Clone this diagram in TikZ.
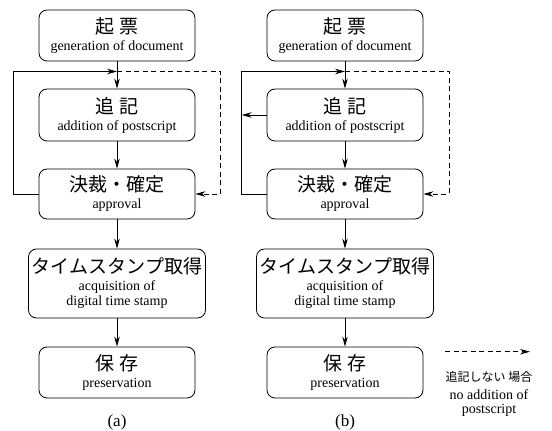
\documentclass[tikz,border=0pt]{standalone}
\usepackage{fontspec}
\setmainfont{Liberation Serif}
\newfontfamily\jpfont{Noto Sans CJK JP}
\usetikzlibrary{positioning, arrows.meta, calc}

\begin{document}
\begin{tikzpicture}[x=1pt,y=1pt,->,>={Stealth[length=10pt,width=5.5pt]},line width=.8pt,
  stage/.style={draw, -, rounded corners=8pt, align=center, minimum width=156pt, minimum height=51pt,
    inner sep=0pt, font=\fontsize{14}{15}\selectfont},
  widestage/.style={stage, minimum width=177pt, minimum height=69pt},
  skip/.style={dash pattern=on 5pt off 3.5pt},
  jp/.style={font=\jpfont\fontsize{12}{14}\selectfont},
  caption/.style={font=\fontsize{17}{18}\selectfont}]
  \useasboundingbox (0,0) rectangle (552,431);

  % (a)
  \node[stage] (a1) at (117,395.5) {{\jpfont\fontsize{19}{21}\selectfont 起 票}\\[2pt]generation of document};
  \node[stage, minimum height=52pt] (a2) at (117,316) {{\jpfont\fontsize{19}{21}\selectfont 追 記}\\[2pt]addition of postscript};
  \node[stage, minimum height=50pt] (a3) at (117,237) {{\jpfont\fontsize{19}{21}\selectfont 決裁・確定}\\[2pt]approval};
  \node[widestage] (a4) at (117,147.5) {{\jpfont\fontsize{19}{21}\selectfont タイムスタンプ取得}\\[2pt]acquisition of\\digital time stamp};
  \node[stage] (a5) at (117,58.5) {{\jpfont\fontsize{19}{21}\selectfont 保 存}\\[2pt]preservation};
  \node[caption] (capa) at (117,9) {(a)};

  \coordinate (ja) at (117,359.5);
  \coordinate (la) at (13.3,359.5);
  \coordinate (ra) at (220.7,359.5);

  \draw (a1) -- (a2);
  \draw (a2) -- (a3);
  \draw (a3) -- (a4);
  \draw (a4) -- (a5);
  \draw (a3.west) -| (la) -- (ja);
  \draw[skip] (ja) -- (ra) |- (a3.east);

  % (b)
  \node[stage] (b1) at (345,395.5) {{\jpfont\fontsize{19}{21}\selectfont 起 票}\\[2pt]generation of document};
  \node[stage, minimum height=52pt] (b2) at (345,316) {{\jpfont\fontsize{19}{21}\selectfont 追 記}\\[2pt]addition of postscript};
  \node[stage, minimum height=50pt] (b3) at (345,237) {{\jpfont\fontsize{19}{21}\selectfont 決裁・確定}\\[2pt]approval};
  \node[widestage] (b4) at (345,147.5) {{\jpfont\fontsize{19}{21}\selectfont タイムスタンプ取得}\\[2pt]acquisition of\\digital time stamp};
  \node[stage] (b5) at (345,58.5) {{\jpfont\fontsize{19}{21}\selectfont 保 存}\\[2pt]preservation};
  \node[caption] (capb) at (345,9) {(b)};

  \coordinate (jb) at (345,359.5);
  \coordinate (lb) at (241.7,359.5);
  \coordinate (rb) at (449,359.5);

  \draw (b1) -- (b2);
  \draw (b2) -- (b3);
  \draw (b3) -- (b4);
  \draw (b4) -- (b5);
  \draw[-] (b3.west) -| (lb);
  \draw (lb) -- (jb);
  \draw (b2.west) -- (b2.west -| lb);
  \draw[skip] (jb) -- (rb) |- (b3.east);

  % legend
  \coordinate (leg1) at (445,79.3);
  \coordinate (leg2) at (530,79.3);
  \draw[skip] (leg1) -- (leg2);
  \node[jp] (legjp) at (489,54.3) {追記しない 場合};
  \node[align=center, font=\rmfamily\fontsize{14}{14}\selectfont, below=0pt of legjp] (legen) {no addition of\\postscript};
\end{tikzpicture}
\end{document}
